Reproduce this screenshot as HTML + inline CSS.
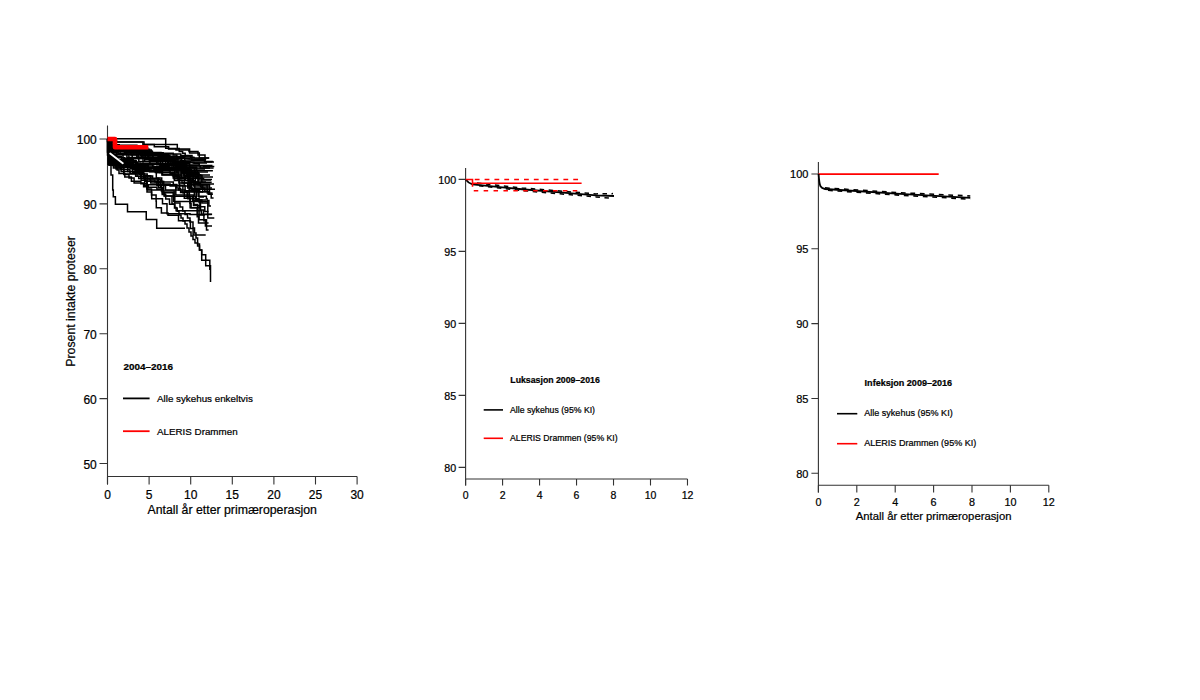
<!DOCTYPE html><html><head><meta charset="utf-8"><style>html,body{margin:0;padding:0;background:#fff;}svg{display:block} text{fill:#000;stroke:#000;stroke-width:0.22px}</style></head><body>
<svg width="1200" height="700" viewBox="0 0 1200 700">
<rect width="1200" height="700" fill="#fff"/>
<path d="M107.5 125.5V484.5M107.5 476.5H357.1" stroke="#333" stroke-width="1.1" fill="none"/>
<path d="M99.5 139.00H107.5M99.5 203.90H107.5M99.5 268.80H107.5M99.5 333.70H107.5M99.5 398.60H107.5M99.5 463.50H107.5M107.50 476.5V484.5M149.10 476.5V484.5M190.70 476.5V484.5M232.30 476.5V484.5M273.90 476.5V484.5M315.50 476.5V484.5M357.10 476.5V484.5" stroke="#333" stroke-width="1.1" fill="none"/>
<text x="96.8" y="144.00" text-anchor="end" font-size="12" font-family="Liberation Sans, sans-serif">100</text>
<text x="96.8" y="208.90" text-anchor="end" font-size="12" font-family="Liberation Sans, sans-serif">90</text>
<text x="96.8" y="273.80" text-anchor="end" font-size="12" font-family="Liberation Sans, sans-serif">80</text>
<text x="96.8" y="338.70" text-anchor="end" font-size="12" font-family="Liberation Sans, sans-serif">70</text>
<text x="96.8" y="403.60" text-anchor="end" font-size="12" font-family="Liberation Sans, sans-serif">60</text>
<text x="96.8" y="468.50" text-anchor="end" font-size="12" font-family="Liberation Sans, sans-serif">50</text>
<text x="107.50" y="499.4" text-anchor="middle" font-size="12" font-family="Liberation Sans, sans-serif">0</text>
<text x="149.10" y="499.4" text-anchor="middle" font-size="12" font-family="Liberation Sans, sans-serif">5</text>
<text x="190.70" y="499.4" text-anchor="middle" font-size="12" font-family="Liberation Sans, sans-serif">10</text>
<text x="232.30" y="499.4" text-anchor="middle" font-size="12" font-family="Liberation Sans, sans-serif">15</text>
<text x="273.90" y="499.4" text-anchor="middle" font-size="12" font-family="Liberation Sans, sans-serif">20</text>
<text x="315.50" y="499.4" text-anchor="middle" font-size="12" font-family="Liberation Sans, sans-serif">25</text>
<text x="357.10" y="499.4" text-anchor="middle" font-size="12" font-family="Liberation Sans, sans-serif">30</text>
<text x="232.2" y="513.9" text-anchor="middle" font-size="12.3" font-family="Liberation Sans, sans-serif">Antall år etter primæroperasjon</text>
<text transform="translate(74.6 301.4) rotate(-90)" x="0" y="0" text-anchor="middle" font-size="12.3" font-family="Liberation Sans, sans-serif">Prosent intakte proteser</text>
<text x="123.6" y="370" font-size="9.9" font-weight="bold" font-family="Liberation Sans, sans-serif">2004–2016</text>
<path d="M123 398.4H149.6" stroke="#000" stroke-width="1.8"/>
<text x="157" y="402" font-size="9.8" font-family="Liberation Sans, sans-serif">Alle sykehus enkeltvis</text>
<path d="M123 431.2H149.6" stroke="#f00" stroke-width="1.8"/>
<text x="157" y="434.8" font-size="9.8" font-family="Liberation Sans, sans-serif">ALERIS Drammen</text>
<g fill="none" stroke="#000" stroke-width="1.5" stroke-linejoin="miter"><path d="M107.5 138.8H165.7V148.2H168.6V148.9H189.6V152.9H199.3V157.9H208.9"/><path d="M107.5 139V141.5H117V142H128.6V142.1H142.9V144.6H154.3V146.8H168.6V148.6H176V150H189V151.5H198V155H205V161.8H212"/><path d="M107.5 139V155H109V165H111V175H112.7V190H113.3V196.7H115.4V204.2H127.5V211.7H146.25V219.6H156.7V228.3H185"/><path d="M107.5 139.0H110.8V144.8H113.7V150.0H138.5V152.6H161.0V156.1H165.5V162.6H165.8V165.6H212.5"/><path d="M107.5 139.0H109.0V142.1H144.0V144.6H177.3V148.4H179.2V151.6H182.6V153.2H185.2V156.0H190.5V157.6H191.5V160.5H205.3"/><path d="M107.5 139.0H111.0V139.4H111.4V142.4H114.7V146.9H115.1V150.8H139.9V152.7H148.4V153.9H180.8V155.5H192.0V159.5H206.2"/><path d="M107.5 139.0H109.7V157.7H110.3V161.3H119.6V164.9H133.1V168.3H137.2V170.2H162.5V174.7H173.2V178.1H190.9V181.8H191.3V185.9H191.4V189.3H215.0"/><path d="M107.5 139.0H108.7V139.3H109.6V140.1H110.6V157.6H116.3V160.3H119.5V162.4H131.7V165.8H148.4V168.5H151.0V170.9H156.6V172.6H174.7V176.5H179.3V178.2H190.3V180.7H193.7V182.3H195.4V183.7H200.5V186.3H201.1V187.9H204.8V191.3H208.2V194.3H212.9"/><path d="M107.5 139.0H108.6V160.5H135.3V163.0H135.8V166.9H136.1V168.4H183.1V172.5H192.9V176.8H198.2V184.5H209.5V194.1H211.2V197.9H213.6"/><path d="M107.5 139.0H108.7V159.1H110.7V164.6H116.3V165.7H133.0V168.5H135.3V170.7H138.7V173.4H139.3V174.5H144.6V177.0H150.8V178.2H158.9V179.6H160.2V181.2H162.5V183.9H170.1V186.0H189.7V188.4H189.8V191.1H194.3V194.0H194.8V196.5H195.7V200.1H201.9V202.9H208.6"/><path d="M107.5 139.0H108.9V140.8H109.8V164.9H114.9V167.0H120.9V169.4H129.9V172.1H130.1V173.4H137.1V176.3H138.7V178.5H149.0V180.0H155.0V182.1H160.5V186.8H161.4V191.0H174.2V196.2H192.8V200.8H199.9V206.7H204.8V211.4H208.6"/><path d="M107.5 139.0H110.3V140.6H111.0V142.2H111.4V164.0H125.5V165.4H128.3V167.8H132.7V172.5H140.8V177.5H141.1V180.3H146.6V185.0H147.7V189.9H162.2V194.5H165.7V199.0H169.5V204.2H174.9V207.5H176.1V210.8H201.3V214.3H212.1"/><path d="M107.5 139.0H107.8V140.9H108.9V155.3H110.4V161.4H113.4V168.0H121.1V171.4H156.3V178.0H161.7V181.6H163.7V192.8H164.9V196.0H173.7V201.5H207.8V217.9H214.3"/><path d="M107.5 139.0H108.3V151.2H110.8V158.5H112.7V161.6H126.5V165.8H135.1V171.3H140.1V173.7H143.8V175.8H150.7V183.1H161.0V185.2H182.9V192.7H184.3V198.3H190.1V207.7H197.2V216.8H198.5V222.9H208.6"/><path d="M107.5 139.0H109.4V155.8H116.8V161.9H120.3V167.1H123.8V174.1H147.2V184.7H175.8V195.1H193.5V205.5H199.1V219.8H206.5V230.0H208.6"/><path d="M107.5 139.0H110.3V152.3H110.9V154.8H114.3V159.6H116.4V166.1H117.1V170.1H119.0V173.6H124.8V177.0H131.4V181.2H140.9V183.8H146.8V189.1H151.5V195.0H156.1V201.2H156.3V207.7H161.4V212.9H168.0V215.3H178.5V220.8H190.4V228.4H193.1V235.0H205.7"/><path d="M107.5 139.0H110.8V160.1H119.2V162.9H120.6V166.0H134.5V168.8H139.1V172.4H140.8V173.8H144.2V177.6H145.5V181.2H156.9V185.4H165.5V190.1H180.8V192.0H203.0"/><path d="M107.5 139.0H108.5V154.3H108.8V154.4H113.1V157.6H113.5V160.3H129.8V162.5H132.7V165.5H147.6V168.2H155.3V172.6H172.6V175.8H177.6V177.8H178.0V180.1H182.0V183.1H187.7V188.1H192.1V191.6H198.1V196.2H206.4V198.7H207.1V200.5H208.9V206.0H211.0"/><path d="M107.5 139.0H108.8V144.0H110.8V155.8H116.2V158.4H117.8V160.0H126.2V162.5H128.1V164.3H159.9V169.7H176.1V172.3H178.5V178.0H184.2V185.4H185.1V190.8H196.3V200.0H206.0"/><path d="M107.5 139.0H108.6V149.8H109.3V158.3H109.9V163.3H118.9V167.6H127.7V171.4H135.6V176.2H143.5V178.7H157.2V182.0H173.3V184.5H176.7V188.1H178.6V190.1H184.9V192.1H187.9V198.7H199.1V202.6H200.5V210.1H203.4V215.0H203.9V220.8H205.4V226.0H212.0"/><path d="M107.5 139.0H108.2V149.6H112.8V151.2H131.6V152.0H145.9V153.3H147.9V154.0H150.2V155.1H158.0V156.3H176.9V156.4H185.2V156.9H190.4V157.2H193.5V157.6H194.1V157.9H209.3"/><path d="M107.5 139.0H109.8V149.2H116.6V150.5H136.0V151.6H140.9V154.0H160.6V155.0H160.9V158.0H173.6V158.2H188.2V158.7H190.0V158.9H202.6V159.7H203.7V160.4H204.8V161.4H212.9"/><path d="M107.5 139.0H108.7V142.6H108.8V145.2H110.3V151.2H116.5V154.4H128.9V157.9H138.8V161.6H156.7V164.7H184.1V165.2H186.9V165.6H187.7V166.0H203.6V166.4H214.3"/><path d="M107.5 139.0H108.9V142.9H109.4V144.2H109.8V146.6H111.0V147.7H125.8V153.1H130.5V154.4H143.0V157.9H158.3V161.4H176.9V162.6H194.1V163.2H199.2V165.8H200.2V167.9H213.6"/><path d="M107.5 139.0H108.2V147.6H137.1V149.4H139.8V153.2H140.5V154.2H141.5V157.9H149.3V161.6H149.9V164.1H178.0V165.7H178.9V167.3H188.5V170.7H212.9"/><path d="M107.5 139.0H108.8V147.1H133.1V148.2H142.3V150.0H151.3V152.7H163.2V156.5H168.8V158.0H171.4V160.7H174.0V161.9H186.5V163.7H189.7V167.1H196.7V170.7H197.4V175.0H210.0"/><path d="M107.5 139.0H109.5V140.1H109.6V141.5H109.8V145.6H118.4V148.7H147.3V155.6H160.5V158.7H173.5V162.7H180.8V166.2H181.1V178.6H204.3"/><path d="M107.5 139.0H108.7V145.9H122.6V147.1H136.1V148.8H140.4V150.0H142.1V150.8H147.9V152.5H152.4V153.3H173.2V154.9H176.8V157.2H184.6V160.0H203.0"/><path d="M107.5 139.0H109.9V144.4H112.5V146.9H125.8V147.8H129.4V151.8H131.0V154.9H152.4V158.6H164.2V160.4H175.8V161.5H183.0V162.5H193.1V163.0H207.0"/><path d="M107.5 139.0H108.4V139.8H110.9V141.0H111.0V142.4H111.3V143.2H112.0V144.3H113.7V147.8H119.3V151.1H124.4V152.8H141.8V155.9H148.8V158.0H174.0V158.5H181.4V160.4H183.7V161.1H185.3V163.3H186.3V165.0H199.0"/><path d="M107.5 139.0H107.9V143.8H109.8V144.8H111.9V146.8H123.3V147.8H147.6V151.3H152.2V152.6H152.4V154.1H160.0V155.0H166.3V158.0H168.7V163.1H179.0V166.4H185.5V167.8H195.4V169.0H205.0"/><path d="M107.5 139.0H107.8V139.7H107.9V140.5H108.7V142.3H109.2V142.9H109.3V143.5H109.9V145.3H136.9V150.5H141.6V154.2H148.0V158.0H177.9V162.9H185.9V167.6H188.7V169.0H191.2V172.0H208.0"/><path d="M107.5 139.0H108.2V141.9H109.3V143.8H109.5V147.2H116.6V148.8H131.2V153.9H145.0V155.2H169.9V158.0H173.0V161.6H179.3V168.9H187.0V174.0H200.0"/><path d="M107.5 139.0H108.2V151.0H110.1V151.6H130.2V152.0H138.8V154.2H140.6V155.3H144.9V156.0H145.3V158.0H170.3V161.2H175.6V166.2H183.5V169.8H187.0V173.4H196.9V177.0H213.0"/><path d="M107.5 139.0H109.6V142.2H110.2V144.3H110.2V147.0H110.4V147.8H110.5V149.6H110.8V152.5H118.2V153.8H126.9V157.4H145.4V159.3H176.1V163.6H184.8V168.1H194.4V172.2H198.8V180.0H211.0"/><path d="M107.5 139.0H108.5V152.8H113.1V154.8H132.2V158.6H144.7V159.8H160.1V160.8H173.3V164.7H178.0V176.1H195.4V182.0H206.0"/><path d="M107.5 139.0H110.5V140.2H110.6V141.9H110.9V144.3H111.1V146.7H143.8V149.2H149.6V156.1H160.4V165.5H175.6V167.7H179.9V170.5H188.0V174.3H192.9V180.2H193.2V181.4H195.8V184.0H214.0"/><path d="M107.5 139.0H107.8V141.4H108.2V143.6H108.6V144.4H109.3V146.5H109.3V147.4H110.8V148.4H124.0V151.4H136.6V154.1H136.8V157.0H142.7V157.7H169.5V158.3H172.9V165.0H181.5V173.0H183.9V175.7H193.2V186.0H209.0"/><path d="M107.5 139.0H108.0V146.4H132.0V149.1H145.1V153.0H153.1V158.1H158.0V163.7H168.4V170.4H174.4V180.4H194.8V188.0H212.0"/><path d="M107.5 139.0H108.1V140.9H109.3V142.0H110.2V144.4H110.4V146.2H113.2V147.6H126.8V150.3H133.4V154.5H145.5V157.5H150.8V160.6H167.7V163.2H168.6V165.5H179.2V168.6H183.6V171.0H196.0"/><path d="M107.5 139.0H107.9V139.5H108.2V141.5H109.6V143.7H109.8V144.7H119.2V150.2H120.1V153.4H123.0V158.4H143.0V164.6H171.3V166.0H175.5V167.5H176.1V170.2H176.5V172.0H184.0V173.8H188.8V176.0H202.0"/><path d="M107.5 139.0H108.1V140.5H109.0V141.2H109.4V142.3H109.7V143.6H110.4V144.5H110.5V145.7H112.8V153.9H138.2V158.0H144.6V161.8H162.7V164.3H173.6V168.8H176.0V176.9H178.9V183.0H198.0"/><path d="M107.5 139.0H108.6V146.9H115.5V151.8H147.5V153.8H148.1V157.3H150.4V161.4H170.8V163.1H178.8V164.3H186.1V166.7H186.6V167.5H192.7V168.0H210.0"/><path d="M107.5 139.0H107.9V145.1H110.4V147.3H134.9V151.4H152.4V154.3H168.5V158.0H176.0V159.3H177.6V159.9H180.7V160.3H182.1V161.3H190.4V162.0H214.0"/><path d="M107.5 139.0H108.1V143.7H108.4V147.7H108.8V148.6H109.0V150.6H110.4V154.9H110.7V158.5H113.7V160.7H136.2V163.0H140.9V163.7H152.6V166.8H169.2V169.9H182.8V173.1H184.3V176.7H188.0V181.4H188.9V183.2H189.1V189.2H189.1V192.5H189.4V196.9H190.0V203.2H191.1V207.7H200.6"/><path d="M107.5 139.0H109.2V160.9H113.5V163.7H131.9V167.2H132.2V169.3H149.7V171.7H161.9V174.9H181.4V177.6H185.2V180.4H188.9V186.5H190.3V188.3H194.0V190.5H199.0V197.0H204.1"/><path d="M107.5 139.0H108.1V145.6H108.3V147.2H108.8V153.9H108.8V156.1H109.1V157.7H109.4V161.0H110.0V162.7H126.3V165.9H153.6V168.7H159.8V172.5H171.8V174.0H188.2V179.7H190.1V188.7H199.7V191.8H206.5"/><path d="M107.5 139.0H108.0V164.2H126.5V165.3H130.5V166.1H134.4V166.8H142.2V167.7H145.1V168.1H162.6V168.9H189.8V172.7H197.9V178.1H201.8V182.3H211.7"/><path d="M107.5 139.0H108.3V141.2H108.5V142.6H108.8V144.3H109.4V149.3H109.7V153.5H110.4V156.9H110.5V159.5H133.3V160.8H135.4V164.1H177.7V170.0H195.0V177.2H198.0V184.8H207.1V187.7H207.2V193.1H212.6"/><path d="M107.5 139.0H108.8V158.1H116.4V161.5H125.3V162.6H137.6V166.2H145.5V167.6H189.4V179.3H190.7V184.7H202.7V191.8H210.1"/><path d="M107.5 139.0H109.0V163.7H113.0V165.6H135.4V167.2H152.4V168.5H170.6V169.8H186.3V172.2H192.3V174.8H200.6V175.6H202.0V178.7H203.2V179.6H212.0"/><path d="M107.5 139.0H108.2V143.6H108.3V145.6H108.3V151.6H108.4V153.6H109.1V158.7H109.3V162.4H109.5V164.4H112.8V165.1H119.4V165.8H126.8V166.8H130.2V167.4H148.2V168.3H154.0V169.5H172.8V170.5H182.0V171.7H186.8V174.7H187.7V176.0H191.0V178.7H192.3V182.3H202.4"/><path d="M107.5 139.0H108.6V161.1H133.4V165.2H148.0V170.8H170.1V174.0H174.1V178.8H179.6V188.4H180.6V192.5H187.2V198.2H193.8V204.4H197.6V214.9H205.0"/><path d="M107.5 139V152H108.9V165H116V169H123.9V174.4H129V178H134.1V183H143.6V186.8H147V192H151.7V198.75H162.5V203.75H167V213.75H190V214.4H211.7"/><path d="M107.5 139.0H108.3V150.0H112.5V152.3H113.6V156.1H114.1V157.8H124.8V161.9H137.2V166.0H137.9V169.1H139.1V172.0H141.5V177.0H144.7V179.9H144.7V185.3H148.3V187.2H156.9V189.3H163.4V193.0H164.0V196.0H170.0H172V204H174.5V208H177.2V211.3H179V215H181V218H183V221H185V224H187V228H189V232H191V236H193V239.5H195V243H197.6V246H199.5V250H201.7V254.8H205.7V260.3H209.8V265.7H210.5V282"/><path d="M107.5 139.0H108.6V152.0H112.5V156.6H121.5V161.9H126.3V163.5H126.4V167.0H130.4V168.6H139.4V172.7H143.8V176.0H152.6V178.7H158.4V187.7H162.3V192.8H173.2V196.4H174.8V203.0H177.0H180V207H182.7V211H185V214.5H187.5V218H190V222H193V228H194.5V233H196V238H197.6V244H199.5V250H201.7V260.3H205.7V265.7H209.8V270"/></g><path d="M110.2 153.6L122.8 163.2" stroke="#fff" stroke-width="1.9" stroke-linecap="round"/><path d="M107.5 139H115V147.2H148.3" fill="none" stroke="#f00" stroke-width="4.6" stroke-linejoin="round"/>
<path d="M465.6 168V485.6M465.6 479H687.5" stroke="#333" stroke-width="1.1" fill="none"/>
<path d="M458.6 179.40H465.6M458.6 251.40H465.6M458.6 323.40H465.6M458.6 395.40H465.6M458.6 467.40H465.6M465.60 479V485.6M502.58 479V485.6M539.56 479V485.6M576.54 479V485.6M613.52 479V485.6M650.50 479V485.6M687.48 479V485.6" stroke="#333" stroke-width="1.1" fill="none"/>
<text x="456.2" y="183.80" text-anchor="end" font-size="10.7" font-family="Liberation Sans, sans-serif">100</text>
<text x="456.2" y="255.80" text-anchor="end" font-size="10.7" font-family="Liberation Sans, sans-serif">95</text>
<text x="456.2" y="327.80" text-anchor="end" font-size="10.7" font-family="Liberation Sans, sans-serif">90</text>
<text x="456.2" y="399.80" text-anchor="end" font-size="10.7" font-family="Liberation Sans, sans-serif">85</text>
<text x="456.2" y="471.80" text-anchor="end" font-size="10.7" font-family="Liberation Sans, sans-serif">80</text>
<text x="465.60" y="498.8" text-anchor="middle" font-size="10.5" font-family="Liberation Sans, sans-serif">0</text>
<text x="502.58" y="498.8" text-anchor="middle" font-size="10.5" font-family="Liberation Sans, sans-serif">2</text>
<text x="539.56" y="498.8" text-anchor="middle" font-size="10.5" font-family="Liberation Sans, sans-serif">4</text>
<text x="576.54" y="498.8" text-anchor="middle" font-size="10.5" font-family="Liberation Sans, sans-serif">6</text>
<text x="613.52" y="498.8" text-anchor="middle" font-size="10.5" font-family="Liberation Sans, sans-serif">8</text>
<text x="650.50" y="498.8" text-anchor="middle" font-size="10.5" font-family="Liberation Sans, sans-serif">10</text>
<text x="687.48" y="498.8" text-anchor="middle" font-size="10.5" font-family="Liberation Sans, sans-serif">12</text>
<text x="510.3" y="383.4" font-size="8.75" font-weight="bold" font-family="Liberation Sans, sans-serif">Luksasjon 2009–2016</text>
<path d="M483.7 409.9H503" stroke="#000" stroke-width="1.6"/>
<text x="510" y="412.7" font-size="8.7" font-family="Liberation Sans, sans-serif">Alle sykehus (95% KI)</text>
<path d="M483.7 438.3H503" stroke="#f00" stroke-width="1.6"/>
<text x="510" y="441.3" font-size="8.7" font-family="Liberation Sans, sans-serif">ALERIS Drammen (95% KI)</text>
<path d="M465.7 179.5C467.5 182 469.5 183.6 472.5 184.4L522 189.25L560 192.4L596 195.4L614 196" stroke="#000" stroke-width="1.8" fill="none"/>
<path d="M477 183.1L522 187.9L560 191.0L596 193.9L613 193.6" stroke="#000" stroke-width="1.5" stroke-dasharray="4.5 4.5" fill="none"/>
<path d="M479 185.8L522 190.6L560 193.8L596 196.9L612 198.4" stroke="#000" stroke-width="1.5" stroke-dasharray="4.5 4.5" fill="none"/>
<path d="M465.7 179.5H472.5V186.8M472.5 183.25H581.6" stroke="#f00" stroke-width="1.6" fill="none"/>
<path d="M474.75 179.5H580" stroke="#f00" stroke-width="1.7" stroke-dasharray="4.8 5.05" fill="none"/>
<path d="M473.75 190.75H580" stroke="#f00" stroke-width="1.7" stroke-dasharray="4.5 5.4" fill="none"/>
<path d="M818.4 162V492.5M818.4 485.2H1048.8" stroke="#333" stroke-width="1.1" fill="none"/>
<path d="M811.4 174.00H818.4M811.4 248.82H818.4M811.4 323.65H818.4M811.4 398.48H818.4M811.4 473.30H818.4M818.40 485.2V492.5M856.80 485.2V492.5M895.20 485.2V492.5M933.60 485.2V492.5M972.00 485.2V492.5M1010.40 485.2V492.5M1048.80 485.2V492.5" stroke="#333" stroke-width="1.1" fill="none"/>
<text x="808.4" y="178.40" text-anchor="end" font-size="11" font-family="Liberation Sans, sans-serif">100</text>
<text x="808.4" y="253.22" text-anchor="end" font-size="11" font-family="Liberation Sans, sans-serif">95</text>
<text x="808.4" y="328.05" text-anchor="end" font-size="11" font-family="Liberation Sans, sans-serif">90</text>
<text x="808.4" y="402.88" text-anchor="end" font-size="11" font-family="Liberation Sans, sans-serif">85</text>
<text x="808.4" y="477.70" text-anchor="end" font-size="11" font-family="Liberation Sans, sans-serif">80</text>
<text x="818.40" y="506" text-anchor="middle" font-size="10.8" font-family="Liberation Sans, sans-serif">0</text>
<text x="856.80" y="506" text-anchor="middle" font-size="10.8" font-family="Liberation Sans, sans-serif">2</text>
<text x="895.20" y="506" text-anchor="middle" font-size="10.8" font-family="Liberation Sans, sans-serif">4</text>
<text x="933.60" y="506" text-anchor="middle" font-size="10.8" font-family="Liberation Sans, sans-serif">6</text>
<text x="972.00" y="506" text-anchor="middle" font-size="10.8" font-family="Liberation Sans, sans-serif">8</text>
<text x="1010.40" y="506" text-anchor="middle" font-size="10.8" font-family="Liberation Sans, sans-serif">10</text>
<text x="1048.80" y="506" text-anchor="middle" font-size="10.8" font-family="Liberation Sans, sans-serif">12</text>
<text x="933.6" y="519.5" text-anchor="middle" font-size="11.3" font-family="Liberation Sans, sans-serif">Antall år etter primæroperasjon</text>
<text x="864.6" y="386" font-size="9.05" font-weight="bold" font-family="Liberation Sans, sans-serif">Infeksjon 2009–2016</text>
<path d="M837 413.7H857.3" stroke="#000" stroke-width="1.6"/>
<text x="864.2" y="416.3" font-size="9.05" font-family="Liberation Sans, sans-serif">Alle sykehus (95% KI)</text>
<path d="M837 443.7H857.3" stroke="#f00" stroke-width="1.6"/>
<text x="864.2" y="446" font-size="9.05" font-family="Liberation Sans, sans-serif">ALERIS Drammen (95% KI)</text>
<path d="M818.4 174.1H938.7" stroke="#f00" stroke-width="1.8" fill="none"/>
<path d="M818.6 174C819 180 819.3 184 820.5 186.3C821.5 188 823 188.6 825 189L896 193.7L970.3 197.9" stroke="#000" stroke-width="1.8" fill="none"/>
<path d="M825 187.9L896 192.5L970.3 196.0" stroke="#000" stroke-width="1.6" stroke-dasharray="4.8 4.7" fill="none"/>
<path d="M828 190.3L896 194.9L970.3 199.2" stroke="#000" stroke-width="1.6" stroke-dasharray="4.8 4.7" fill="none"/>
</svg></body></html>
